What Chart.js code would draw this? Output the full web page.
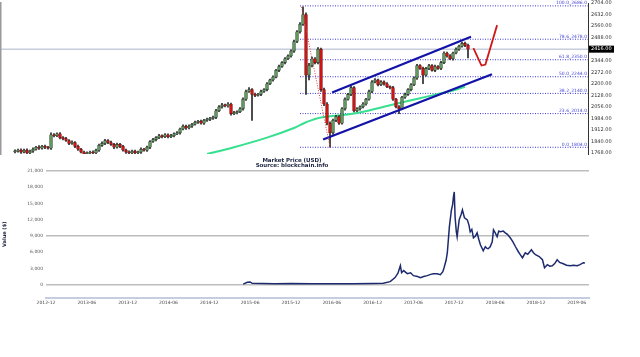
<!DOCTYPE html>
<html><head><meta charset="utf-8">
<script src="https://cdn.jsdelivr.net/npm/chart.js@4.4.1/dist/chart.umd.min.js"></script>
<style>
html,body{margin:0;padding:0;background:#fff;width:640px;height:357px;overflow:hidden;position:relative}
#top{position:absolute;left:0;top:-3px}
#bot{position:absolute;left:0;top:152px}
</style></head><body>
<canvas id="top" width="640" height="163"></canvas>
<canvas id="bot" width="640" height="205"></canvas>
<script>
// ---------- top chart data (weekly candles) ----------
const opens=[1776,1780,1786,1774,1786,1768,1780,1792,1804,1798,1810,1804,1798,1882,1876,1888,1864,1858,1846,1828,1834,1810,1792,1774,1762,1768,1774,1768,1786,1816,1828,1846,1834,1822,1804,1822,1810,1786,1774,1768,1780,1768,1774,1792,1786,1804,1840,1852,1864,1876,1870,1882,1870,1876,1888,1894,1918,1936,1924,1936,1948,1960,1966,1954,1972,1978,1984,1990,2032,2056,2068,2062,2074,2014,2020,2026,2044,2104,2152,2164,2134,2128,2134,2152,2164,2200,2224,2242,2284,2308,2332,2356,2374,2404,2464,2524,2572,2632,2254,2314,2356,2332,2416,2164,2074,1954,1894,1972,1996,1954,2044,2104,2134,2176,2032,2044,2056,2074,2104,2152,2212,2224,2194,2212,2200,2182,2176,2104,2056,2044,2116,2134,2164,2194,2236,2314,2296,2254,2296,2314,2284,2308,2296,2332,2392,2374,2356,2392,2416,2434,2452,2440];
const highs=[1788,1792,1794,1792,1794,1786,1800,1810,1814,1816,1818,1810,1894,1890,1894,1896,1870,1866,1852,1844,1840,1818,1798,1780,1776,1780,1782,1792,1824,1838,1854,1852,1842,1828,1830,1828,1816,1792,1782,1786,1786,1780,1800,1798,1812,1846,1860,1870,1884,1882,1890,1888,1884,1894,1902,1924,1944,1942,1944,1954,1968,1972,1974,1978,1986,1990,1998,2040,2064,2078,2074,2082,2080,2028,2032,2052,2112,2160,2176,2170,2142,2140,2160,2170,2208,2230,2250,2290,2316,2338,2364,2380,2412,2472,2532,2582,2680,2642,2328,2366,2364,2426,2422,2174,2082,1962,1980,2004,2002,2052,2112,2140,2184,2182,2052,2062,2082,2110,2160,2220,2232,2230,2220,2218,2208,2188,2184,2110,2064,2122,2142,2170,2202,2244,2322,2320,2304,2302,2322,2320,2316,2314,2340,2400,2398,2382,2398,2424,2442,2460,2460,2448];
const lows=[1768,1774,1766,1768,1762,1762,1772,1786,1790,1792,1796,1792,1790,1868,1870,1856,1850,1840,1820,1822,1802,1784,1768,1758,1758,1762,1762,1762,1778,1810,1820,1826,1816,1796,1798,1802,1780,1766,1762,1762,1762,1762,1766,1780,1778,1796,1834,1844,1858,1862,1864,1862,1864,1868,1882,1886,1912,1916,1918,1928,1942,1952,1948,1946,1966,1970,1978,1982,2026,2048,2056,2054,2004,2008,2012,2020,2036,2096,2146,1972,2120,2122,2126,2146,2156,2194,2216,2236,2276,2302,2324,2350,2366,2396,2456,2516,2564,2134,2224,2306,2324,2324,2152,2064,1944,1804,1884,1964,1946,1948,2036,2098,2126,2024,2026,2036,2050,2066,2098,2144,2206,2186,2188,2192,2176,2168,2096,2050,2014,2038,2108,2128,2156,2188,2228,2290,2200,2248,2288,2278,2276,2290,2288,2326,2366,2350,2348,2386,2408,2428,2432,2362];
const closes=[1780,1786,1774,1786,1768,1780,1792,1804,1798,1810,1804,1798,1882,1876,1888,1864,1858,1846,1828,1834,1810,1792,1774,1762,1768,1774,1768,1786,1816,1828,1846,1834,1822,1804,1822,1810,1786,1774,1768,1780,1768,1774,1792,1786,1804,1840,1852,1864,1876,1870,1882,1870,1876,1888,1894,1918,1936,1924,1936,1948,1960,1966,1954,1972,1978,1984,1990,2032,2056,2068,2062,2074,2014,2020,2026,2044,2104,2152,2164,2134,2128,2134,2152,2164,2200,2224,2242,2284,2308,2332,2356,2374,2404,2464,2524,2572,2632,2254,2314,2356,2332,2416,2164,2074,1954,1894,1972,1996,1954,2044,2104,2134,2176,2032,2044,2056,2074,2104,2152,2212,2224,2194,2212,2200,2182,2176,2104,2056,2044,2116,2134,2164,2194,2236,2314,2296,2254,2296,2314,2284,2308,2296,2332,2392,2374,2356,2392,2416,2434,2452,2440,2416];
const maIdx=[64,73,84,93,97,102,113,124,135,146,150];
const maVal=[1762,1804,1864,1924,1960,1990,2014,2062,2110,2158,2182];
const priceTicks=[1768,1840,1912,1984,2056,2128,2200,2272,2344,2416,2488,2560,2632,2704];
const lastPrice=2416;
const fibPct=['100.0','78.6','61.8','50.0','38.2','23.6','0.0'];
const fibVal=[2686,2478,2350,2244,2140,2014,1804];
const fibStartIdx=95;
const chanUpper=[[105.7,2146],[152,2494]];
const chanLower=[[102.7,1852],[159,2260]];
const fibDiag=[[95.5,2680],[105,1804]];
const forecast=[[152.8,2422],[155.5,2314],[156.8,2320],[160.7,2566]];
// ---------- bottom chart data ----------
const btcX=[4.83,4.93,5.0,5.05,5.3,5.6,6.0,6.5,7.0,7.5,8.0,8.26,8.43,8.55,8.62,8.68,8.71,8.76,8.85,8.93,9.0,9.1,9.17,9.25,9.34,9.42,9.49,9.58,9.66,9.72,9.75,9.8,9.83,9.88,9.93,9.96,9.98,10.0,10.02,10.05,10.07,10.12,10.17,10.2,10.25,10.32,10.36,10.39,10.43,10.47,10.52,10.56,10.6,10.64,10.71,10.76,10.8,10.83,10.88,10.93,10.96,11.0,11.05,11.09,11.13,11.2,11.25,11.3,11.37,11.43,11.5,11.57,11.62,11.67,11.74,11.8,11.89,11.94,11.99,12.08,12.16,12.21,12.28,12.34,12.4,12.46,12.52,12.58,12.67,12.75,12.84,12.92,13.01,13.08,13.16,13.2];
const btcY=[100,450,500,250,200,150,200,150,180,150,200,250,550,1300,2100,3500,2200,2600,2030,2200,1660,1500,1290,1500,1660,1900,2030,2000,1840,2400,3130,4500,5900,10680,13800,14800,16200,17130,12500,9800,8840,11970,13000,13800,12340,11970,11000,9760,10200,8660,9000,9580,8400,7370,6260,7000,6700,6630,7000,7920,10130,9600,8840,9900,9760,9900,9580,9300,8660,8000,7000,6080,5500,4970,5890,5600,6450,5900,5530,5200,4600,3130,3680,3400,3500,3900,4600,4100,3870,3600,3500,3600,3500,3700,4050,4000];
const dateLabels=['2012-12','2013-06','2013-12','2014-06','2014-12','2015-06','2015-12','2016-06','2016-12','2017-06','2017-12','2018-06','2018-12','2019-06'];
const valueTicks=[0,3000,6000,9000,12000,15000,18000,21000];
const gridValues=[0,9000,21000];

const FONT='"DejaVu Sans", Arial, sans-serif';
const seg=(pts)=>pts.map(p=>({x:p[0],y:p[1]}));
const fixedTicks=(arr)=>(s)=>{s.ticks=arr.map(v=>({value:v}));};
const isUp=(i)=>closes[i]>=opens[i];

const topPlugin={
  id:'topdeco',
  afterDatasetsDraw(chart){
    const c=chart.ctx, ys=chart.scales.y, a=chart.chartArea;
    c.save();
    c.font='4.5px '+FONT; c.fillStyle='#4646d8'; c.textAlign='right'; c.textBaseline='bottom';
    fibVal.forEach((v,i)=>{c.fillText(fibPct[i]+'_'+v.toFixed(1), a.right-1, ys.getPixelForValue(v)-0.5);});
    const py=ys.getPixelForValue(lastPrice);
    c.fillStyle='#000'; c.fillRect(a.right+1, py-3.5, 25, 7);
    c.fillStyle='#fff'; c.font='5px '+FONT; c.textAlign='left'; c.textBaseline='middle';
    c.fillText(lastPrice.toFixed(2), a.right+3, py);
    c.restore();
  }
};

new Chart(document.getElementById('top'),{
  data:{datasets:[
    {type:'line',data:seg([[-10,lastPrice],[200,lastPrice]]),borderColor:'#a9b3c9',borderWidth:1,pointRadius:0,order:5},
    ...fibVal.map(v=>({type:'line',data:seg([[fibStartIdx,v],[200,v]]),borderColor:'#3a3ad6',borderWidth:1,borderDash:[1,1.5],pointRadius:0,order:4})),
    {type:'line',data:maIdx.map((x,i)=>({x,y:maVal[i]})),borderColor:'#36e08e',borderWidth:2,pointRadius:0,tension:0.35,order:3},
    {type:'bar',data:lows.map((l,i)=>({x:i,y:[l,highs[i]]})),backgroundColor:'#2a2a2a',barThickness:1,grouped:false,order:2},
    {type:'bar',data:closes.map((c,i)=>({x:i,y:[opens[i],c]})),
      backgroundColor:(ctx)=>isUp(ctx.dataIndex)?'#5e9a5e':'#d01414',
      borderColor:(ctx)=>isUp(ctx.dataIndex)?'#263326':'#6a1010',
      borderWidth:0.6,borderSkipped:false,barThickness:2.8,minBarLength:1,grouped:false,order:1},
    {type:'line',data:seg(fibDiag),borderColor:'#e04040',borderWidth:1,borderDash:[1,1.5],pointRadius:0,order:0},
    {type:'line',data:seg(chanUpper),borderColor:'#1212a8',borderWidth:2.2,pointRadius:0,order:0},
    {type:'line',data:seg(chanLower),borderColor:'#1212a8',borderWidth:2.2,pointRadius:0,order:0},
    {type:'line',data:seg(forecast),borderColor:'#d01818',borderWidth:1.8,pointRadius:0,order:0}
  ]},
  options:{
    responsive:false,animation:false,events:[],
    layout:{padding:{left:0,right:0,top:0,bottom:0}},
    plugins:{legend:{display:false},tooltip:{enabled:false}},
    scales:{
      x:{type:'linear',min:-4.67,max:191,offset:false,display:false},
      y:{type:'linear',position:'right',min:1762,max:2704,
        afterBuildTicks:fixedTicks(priceTicks),
        afterFit:(s)=>{s.width=52;},
        grid:{display:false,drawTicks:false},
        border:{display:true,color:'#333',width:1},
        ticks:{font:{size:5,family:FONT},color:'#333',padding:3,callback:(v)=>Number(v).toFixed(2)}},
      y2:{type:'linear',position:'left',display:true,min:0,max:1,
        afterFit:(s)=>{s.width=1;},
        grid:{display:false,drawTicks:false},ticks:{display:false},
        border:{display:true,color:'#9a9a9a',width:1.5}}
    }
  },
  plugins:[topPlugin]
});

const botPlugin={
  id:'botdeco',
  afterDraw(chart){
    const c=chart.ctx;
    c.save();
    c.font='bold 5.5px '+FONT; c.fillStyle='#1c2340'; c.textAlign='center'; c.textBaseline='middle';
    c.fillText('Market Price (USD)',292,8.5);
    c.fillText('Source: blockchain.info',292,13.5);
    c.restore();
  }
};

new Chart(document.getElementById('bot'),{
  type:'line',
  data:{datasets:[{data:btcX.map((x,i)=>({x,y:btcY[i]})),borderColor:'#1d2b6e',borderWidth:1.5,pointRadius:0,tension:0}]},
  options:{
    responsive:false,animation:false,events:[],
    layout:{padding:{left:0,right:51,top:19,bottom:48}},
    plugins:{legend:{display:false},tooltip:{enabled:false}},
    scales:{
      x:{type:'linear',min:0,max:13.3,
        afterBuildTicks:fixedTicks(dateLabels.map((d,i)=>i)),
        grid:{display:false,drawTicks:false},
        border:{display:true,color:'#c6cde0',width:2},
        ticks:{font:{size:4.5,family:FONT},color:'#444',padding:3,maxRotation:0,autoSkip:false,callback:(v)=>dateLabels[v]}},
      y:{type:'linear',min:-2395,max:21000,
        afterBuildTicks:fixedTicks(valueTicks),
        afterFit:(s)=>{s.width=46;},
        grid:{drawTicks:false,lineWidth:1.5,color:(ctx)=>gridValues.includes(ctx.tick&&ctx.tick.value)?'#bdbdbd':'rgba(0,0,0,0)'},
        border:{display:false},
        title:{display:true,text:'Value ($)',font:{size:5,weight:'bold',family:FONT},color:'#1c2340',padding:2},
        ticks:{font:{size:4.5,family:FONT},color:'#555',padding:3,callback:(v)=>Number(v).toLocaleString('en-US')}}
    }
  },
  plugins:[botPlugin]
});
</script>
</body></html>
